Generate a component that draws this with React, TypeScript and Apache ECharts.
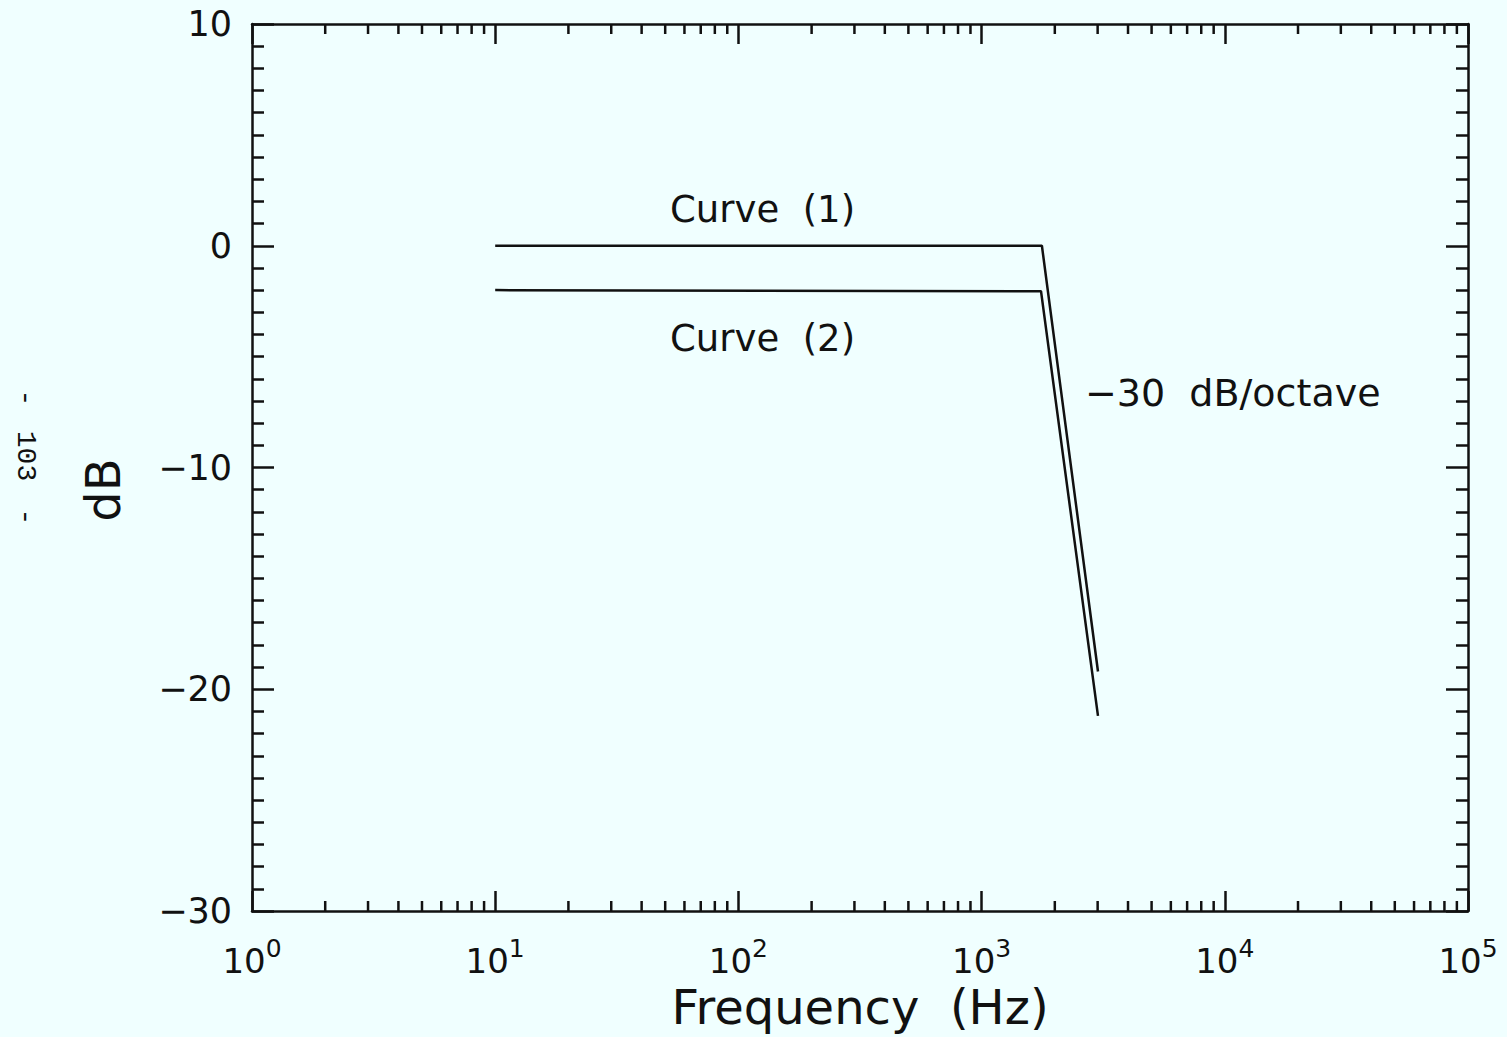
import React, { useEffect, useRef } from "react";
import * as echarts from "echarts";

const X_MIN = 1;
const X_MAX = 100000;
const Y_MIN = -30;
const Y_MAX = 10;
const Y_INTERVAL = 10;

// Curve data: [frequency Hz, dB]
const curve1: [number, number][] = [
  [10, 0],
  [1770, 0],
  [3010, -19.2],
];
const curve2: [number, number][] = [
  [10, -2],
  [1755, -2.05],
  [3010, -21.2],
];

// minor tick positions on the log axis: multipliers 2..9 in every decade
const decades = [1, 10, 100, 1000, 10000];
const multipliers = [2, 3, 4, 5, 6, 7, 8, 9];
const minorTicks: number[] = [];
decades.forEach((d) => multipliers.forEach((m) => minorTicks.push(d * m)));

const INK = "#111";
const BG = "#f0ffff";
const FONT = "DejaVu Sans";

export default function App() {
  const ref = useRef<HTMLDivElement>(null);

  useEffect(() => {
    document.body.style.margin = "0";
    document.body.style.background = BG;
    const chart = echarts.init(ref.current!, undefined, { renderer: "svg" });

    const fmtY = (v: number) => (v < 0 ? "\u2212" + Math.abs(v) : String(v));
    const fmtX = (v: number) => `{b|10}{s|${Math.round(Math.log10(v))}}`;

    const yAxisBase = {
      type: "value" as const,
      min: Y_MIN,
      max: Y_MAX,
      interval: Y_INTERVAL,
      axisLine: { show: true, onZero: false, lineStyle: { color: INK, width: 2.5 } },
      axisTick: { show: true, inside: true, length: 22, lineStyle: { color: INK, width: 2.5 } },
      minorTick: { show: true, splitNumber: 10, length: 12, lineStyle: { color: INK, width: 2.5 } },
      splitLine: { show: false },
    };
    const xAxisBase = {
      type: "log" as const,
      logBase: 10,
      min: X_MIN,
      max: X_MAX,
      splitNumber: 5,
      axisLine: { show: true, onZero: false, lineStyle: { color: INK, width: 2.5 } },
      axisTick: { show: true, inside: true, length: 20, lineStyle: { color: INK, width: 2.5 } },
      minorTick: { show: false },
      splitLine: { show: false },
    };

    chart.setOption({
      animation: false,
      backgroundColor: BG,
      grid: {
        left: 252,
        right: 39,
        top: 24,
        bottom: 126,
        containLabel: false,
        outerBoundsMode: "none",
      },
      xAxis: [
        {
          ...xAxisBase,
          position: "bottom",
          axisLabel: {
            show: true,
            margin: 25,
            formatter: fmtX,
            rich: {
              b: { fontFamily: FONT, fontSize: 34, color: INK, lineHeight: 42, verticalAlign: "bottom" },
              s: { fontFamily: FONT, fontSize: 25, color: INK, lineHeight: 20, verticalAlign: "top" },
            },
          },
        },
        {
          ...xAxisBase,
          position: "top",
          axisLabel: { show: false },
        },
      ],
      yAxis: [
        {
          ...yAxisBase,
          position: "left",
          axisLabel: {
            show: true,
            margin: 20,
            formatter: fmtY,
            fontFamily: FONT,
            fontSize: 35,
            color: INK,
          },
        },
        {
          ...yAxisBase,
          position: "right",
          axisLabel: { show: false },
        },
      ],
      series: [
        {
          type: "line",
          name: "Curve (1)",
          data: curve1,
          xAxisIndex: 0,
          yAxisIndex: 0,
          showSymbol: false,
          symbol: "none",
          lineStyle: { color: INK, width: 2.5 },
          silent: true,
        },
        {
          type: "line",
          name: "Curve (2)",
          data: curve2,
          xAxisIndex: 0,
          yAxisIndex: 0,
          showSymbol: false,
          symbol: "none",
          lineStyle: { color: INK, width: 2.5 },
          silent: true,
        },
        {
          type: "custom",
          name: "minor ticks",
          xAxisIndex: 0,
          yAxisIndex: 0,
          silent: true,
          clip: false,
          data: minorTicks.map((v) => [v, Y_MIN]),
          renderItem: (_params: any, api: any) => {
            const v = api.value(0);
            const b = api.coord([v, Y_MIN]);
            const t = api.coord([v, Y_MAX]);
            return {
              type: "group",
              children: [
                {
                  type: "line",
                  shape: { x1: b[0], y1: b[1], x2: b[0], y2: b[1] - 10 },
                  style: { stroke: INK, lineWidth: 2.5 },
                },
                {
                  type: "line",
                  shape: { x1: t[0], y1: t[1], x2: t[0], y2: t[1] + 10 },
                  style: { stroke: INK, lineWidth: 2.5 },
                },
              ],
            };
          },
        },
      ],
      graphic: [
        {
          type: "text",
          x: 860,
          y: 1007,
          style: {
            text: "Frequency  (Hz)",
            fontFamily: FONT,
            fontSize: 48,
            fill: INK,
            align: "center",
            verticalAlign: "middle",
          },
        },
        {
          type: "text",
          left: 670,
          top: 191,
          style: { text: "Curve  (1)", fontFamily: FONT, fontSize: 37, fill: INK },
        },
        {
          type: "text",
          left: 670,
          top: 320,
          style: { text: "Curve  (2)", fontFamily: FONT, fontSize: 37, fill: INK },
        },
        {
          type: "text",
          left: 1085,
          top: 374,
          style: { text: "\u221230  dB/octave", fontFamily: FONT, fontSize: 38, fill: INK },
        },
        {
          type: "text",
          x: 103,
          y: 490,
          rotation: Math.PI / 2,
          style: {
            text: "dB",
            fontFamily: FONT,
            fontSize: 48,
            fill: INK,
            align: "center",
            verticalAlign: "middle",
          },
        },
        {
          type: "text",
          x: 25,
          y: 398,
          rotation: -Math.PI / 2,
          style: { text: "-", fontFamily: "Liberation Mono", fontSize: 28, fill: INK, align: "center", verticalAlign: "middle" },
        },
        {
          type: "text",
          x: 25,
          y: 456,
          rotation: -Math.PI / 2,
          style: { text: "103", fontFamily: "Liberation Mono", fontSize: 28, fill: INK, align: "center", verticalAlign: "middle" },
        },
        {
          type: "text",
          x: 25,
          y: 517,
          rotation: -Math.PI / 2,
          style: { text: "-", fontFamily: "Liberation Mono", fontSize: 28, fill: INK, align: "center", verticalAlign: "middle" },
        },
      ],
    });

    return () => chart.dispose();
  }, []);

  return (
    <div
      ref={ref}
      style={{ position: "fixed", left: 0, top: 0, width: 1507, height: 1037, background: BG }}
    />
  );
}
